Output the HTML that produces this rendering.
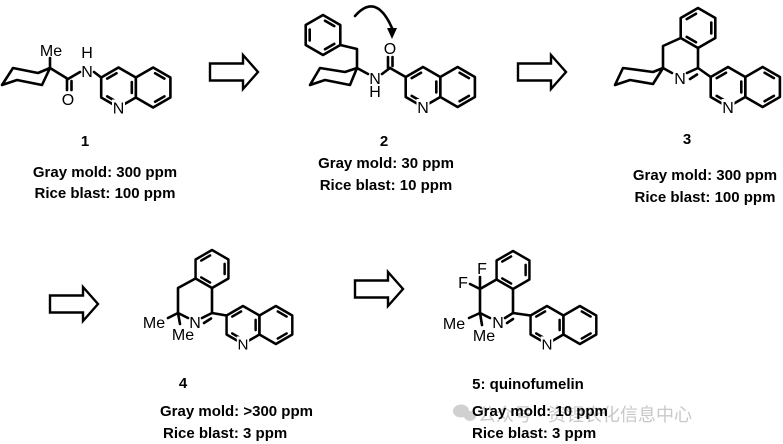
<!DOCTYPE html>
<html><head><meta charset="utf-8"><style>
html,body{margin:0;padding:0;background:#fff;}
svg{display:block;}
.t{font-family:"Liberation Sans",Arial,sans-serif;font-weight:bold;font-size:15px;fill:#000;}
.a{font-family:"Liberation Sans",Arial,sans-serif;font-size:16px;fill:#000;}
</style></head><body>
<svg width="783" height="444" viewBox="0 0 783 444" xmlns="http://www.w3.org/2000/svg">
<defs>
<g id="hex"><polygon points="0,-20 17.3,-10 17.3,10 0,20 -17.3,10 -17.3,-10" fill="none" stroke="#000" stroke-width="2.6" stroke-linejoin="round"/></g>
<g id="dbA" stroke="#000" stroke-width="2.6" stroke-linecap="round">
<line x1="-11.3" y1="-8.85" x2="-2" y2="-14.25"/><line x1="13.3" y1="-5.4" x2="13.3" y2="5.4"/><line x1="-2" y1="14.25" x2="-11.3" y2="8.85"/></g>
<g id="dbB" stroke="#000" stroke-width="2.6" stroke-linecap="round">
<line x1="2" y1="-14.25" x2="11.3" y2="-8.85"/><line x1="11.3" y1="8.85" x2="2" y2="14.25"/><line x1="-13.3" y1="5.4" x2="-13.3" y2="-5.4"/></g>
<g id="dbQ" stroke="#000" stroke-width="2.6" stroke-linecap="round">
<line x1="2" y1="-14.25" x2="11.3" y2="-8.85"/><line x1="11.3" y1="8.85" x2="2" y2="14.25"/></g>
<g id="quin">
<use href="#hex"/><use href="#dbA"/>
<g transform="translate(34.6,0)"><use href="#hex"/><use href="#dbQ"/></g>
<rect x="-6.5" y="12" width="13" height="16" fill="#fff"/>
<text class="a" x="0" y="26" text-anchor="middle">N</text>
</g>
<g id="arr"><polygon points="0,-8.5 33,-8.5 33,-17 48,0 33,17 33,8.5 0,8.5" fill="#fff" stroke="#000" stroke-width="2.4" stroke-linejoin="miter"/></g>
</defs>

<g fill="none" stroke="#000" stroke-width="2.6" stroke-linecap="round" stroke-linejoin="round">
<polygon points="2,85 13,68 38,73 50,68 42,85 17,80"/>
<line x1="50" y1="68" x2="50" y2="58"/>
<line x1="50" y1="68" x2="68" y2="79"/>
<line x1="67" y1="79" x2="67" y2="90"/><line x1="71.5" y1="81" x2="71.5" y2="90"/>
<line x1="68" y1="79" x2="80" y2="72"/>
<line x1="94" y1="72" x2="101.2" y2="77.5"/>
<polygon points="310,85 320,68 345,72 357,68 350,85 325,80"/>
<polyline points="340.3,45 357,49 357,68"/>
<line x1="357" y1="68" x2="368" y2="74"/>
<line x1="382" y1="74" x2="390" y2="68"/>
<line x1="388" y1="68" x2="388" y2="57"/><line x1="392.5" y1="66" x2="392.5" y2="57"/>
<line x1="390" y1="68" x2="405.7" y2="77"/>
<path d="M355 16 Q376 -8 392 28"/>
<polygon points="615,85 623,68 653,72 663,68 653,84 630,80"/>
<polyline points="680.7,38 663,46 663,68 672,73"/>
<line x1="687" y1="73" x2="698" y2="68"/><line x1="690" y1="79" x2="697" y2="74.5"/>
<line x1="698" y1="68" x2="698" y2="48"/>
<line x1="698" y1="68" x2="710.7" y2="77"/>
<polyline points="195.5,278.5 178,288 178,313"/>
<line x1="178" y1="313" x2="168" y2="318"/><line x1="178" y1="313" x2="180" y2="324"/>
<line x1="178" y1="313" x2="188" y2="318"/>
<line x1="202" y1="318" x2="212" y2="313"/><line x1="204" y1="323" x2="211" y2="318.5"/>
<line x1="212" y1="313" x2="212" y2="288"/>
<line x1="212" y1="313" x2="226.5" y2="315.5"/>
<polyline points="496.5,279.5 480,289 480,313"/>
<line x1="480" y1="289" x2="480" y2="277"/><line x1="480" y1="289" x2="470" y2="284"/>
<line x1="480" y1="313" x2="469" y2="318"/><line x1="480" y1="313" x2="482" y2="325"/>
<line x1="480" y1="313" x2="490" y2="318"/>
<line x1="505" y1="318" x2="513" y2="313"/><line x1="507" y1="323" x2="513" y2="319"/>
<line x1="513" y1="313" x2="513" y2="289"/>
<line x1="513" y1="313" x2="530.5" y2="315.5"/>
</g>
<polygon points="387,28 397,28 392,39" fill="#000"/>

<use href="#quin" x="118.5" y="87.5"/>
<g transform="translate(323,35)"><use href="#hex"/><use href="#dbB"/></g>
<use href="#quin" x="423" y="87"/>
<g transform="translate(698,28)"><use href="#hex"/><use href="#dbA"/></g>
<use href="#quin" x="728" y="87"/>
<g transform="translate(212,269) scale(0.95)"><use href="#hex"/><use href="#dbA"/></g>
<g transform="translate(243,325) scale(0.95)"><use href="#quin"/></g>
<g transform="translate(513,270) scale(0.95)"><use href="#hex"/><use href="#dbA"/></g>
<g transform="translate(547,325) scale(0.95)"><use href="#quin"/></g>

<text class="a" x="51" y="56" text-anchor="middle">Me</text>
<text class="a" x="87" y="58" text-anchor="middle">H</text>
<text class="a" x="87" y="77" text-anchor="middle">N</text>
<text class="a" x="68" y="105" text-anchor="middle">O</text>
<text class="a" x="375" y="84" text-anchor="middle">N</text>
<text class="a" x="375" y="97" text-anchor="middle">H</text>
<text class="a" x="390" y="54" text-anchor="middle">O</text>
<text class="a" x="680" y="84" text-anchor="middle">N</text>
<text class="a" x="195" y="328" text-anchor="middle">N</text>
<text class="a" x="154" y="328" text-anchor="middle">Me</text>
<text class="a" x="183" y="340" text-anchor="middle">Me</text>
<text class="a" x="498" y="328" text-anchor="middle">N</text>
<text class="a" x="454" y="329" text-anchor="middle">Me</text>
<text class="a" x="484" y="341" text-anchor="middle">Me</text>
<text class="a" x="482" y="274" text-anchor="middle">F</text>
<text class="a" x="463" y="288" text-anchor="middle">F</text>

<use href="#arr" x="210" y="72"/>
<use href="#arr" x="518" y="72"/>
<use href="#arr" x="50" y="304"/>
<use href="#arr" x="355" y="289"/>

<g fill="#d0d0d0">
<ellipse cx="461" cy="411" rx="8" ry="6.5"/><ellipse cx="470" cy="416" rx="6" ry="5"/>
</g>
<text x="478" y="421" font-family="'Liberation Sans','Noto Sans CJK SC',sans-serif" font-size="18" fill="#c8c8c8">公众号 · 资锂农化信息中心</text>

<text class="t" x="85" y="146" text-anchor="middle">1</text>
<text class="t" x="105" y="177" text-anchor="middle">Gray mold: 300 ppm</text>
<text class="t" x="105" y="198" text-anchor="middle">Rice blast: 100 ppm</text>
<text class="t" x="384" y="146" text-anchor="middle">2</text>
<text class="t" x="386" y="168" text-anchor="middle">Gray mold: 30 ppm</text>
<text class="t" x="386" y="190" text-anchor="middle">Rice blast: 10 ppm</text>
<text class="t" x="687" y="144" text-anchor="middle">3</text>
<text class="t" x="705" y="180" text-anchor="middle">Gray mold: 300 ppm</text>
<text class="t" x="705" y="202" text-anchor="middle">Rice blast: 100 ppm</text>
<text class="t" x="183" y="388" text-anchor="middle">4</text>
<text class="t" x="160" y="416">Gray mold: &gt;300 ppm</text>
<text class="t" x="163" y="438">Rice blast: 3 ppm</text>
<text class="t" x="528" y="389" text-anchor="middle">5: quinofumelin</text>
<text class="t" x="472" y="416">Gray mold: 10 ppm</text>
<text class="t" x="472" y="438">Rice blast: 3 ppm</text>
</svg>
</body></html>
